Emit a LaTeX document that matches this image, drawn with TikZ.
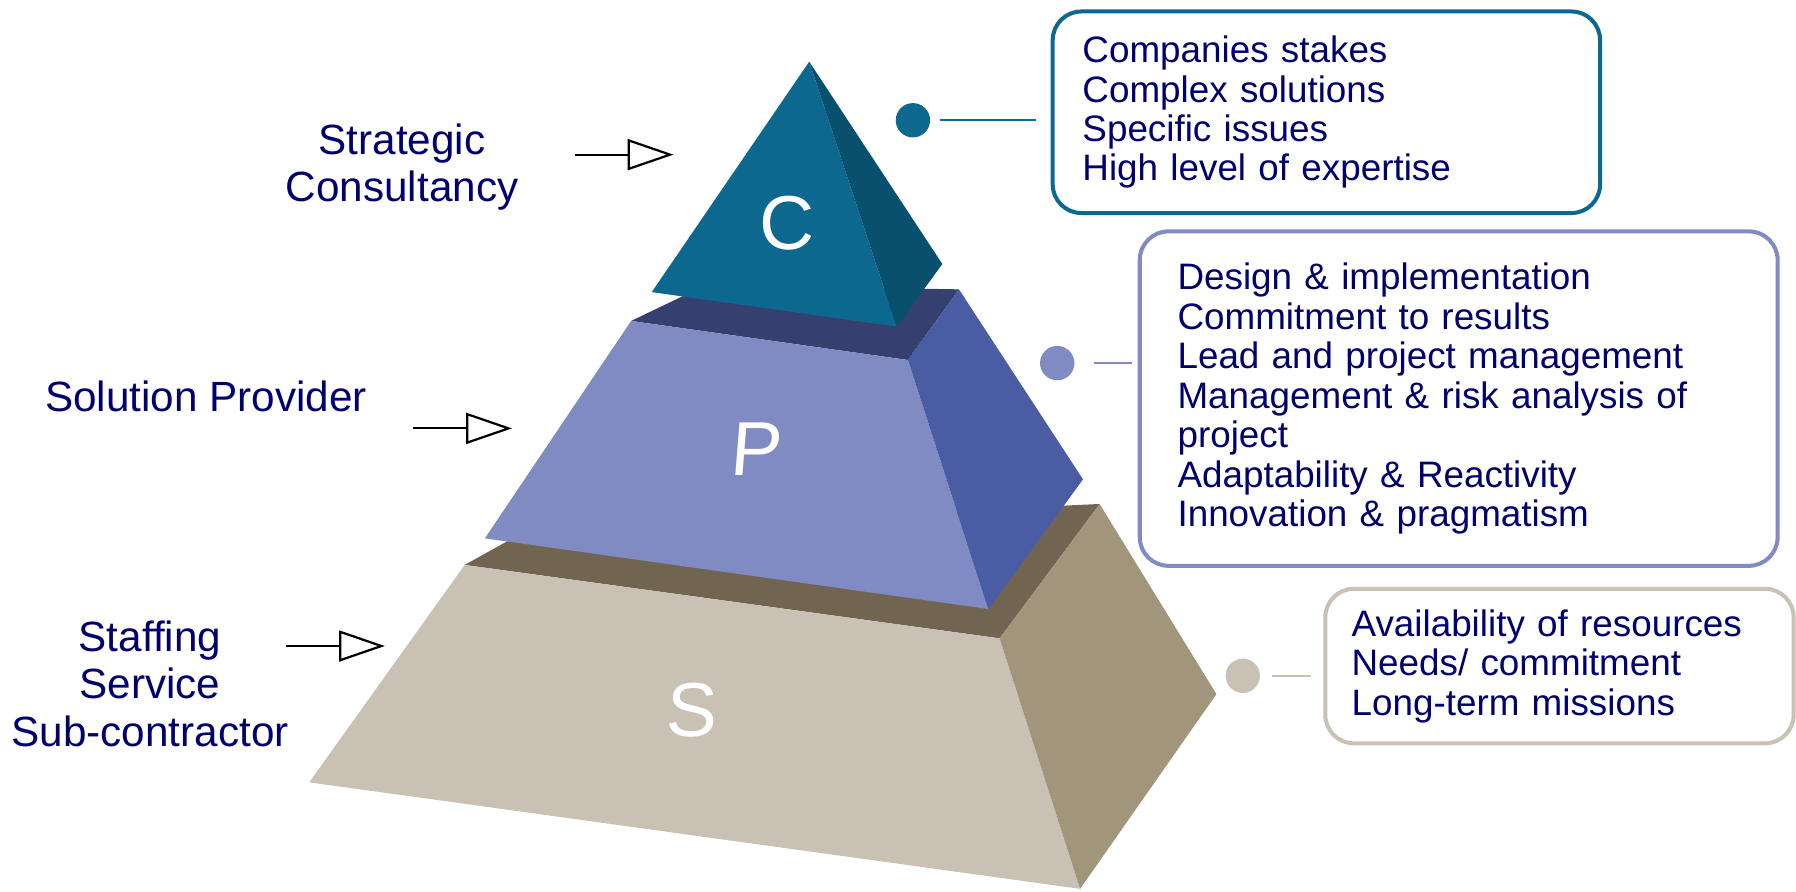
\documentclass[tikz,border=0pt]{standalone}
\usepackage{fontspec}
\setmainfont{Liberation Sans}
\usepackage{tikz}
\usetikzlibrary{arrows.meta,positioning}
\usepackage{xcolor}
\definecolor{pyrnavy}{RGB}{0,0,110}
\definecolor{cfront}{RGB}{13,104,144}
\definecolor{cside}{RGB}{8,80,110}
\definecolor{ptop}{RGB}{53,63,112}
\definecolor{pfront}{RGB}{127,139,194}
\definecolor{pside}{RGB}{74,93,164}
\definecolor{stop}{RGB}{113,101,82}
\definecolor{sfront}{RGB}{200,193,180}
\definecolor{sside}{RGB}{161,149,124}
\tikzstyle{infobox} = [rectangle, rounded corners=0.5cm, line width=2pt, fill=white, align=left, text=pyrnavy, font=\fontsize{18.3}{19.6}\selectfont]
\tikzstyle{leveldot} = [circle, inner sep=0pt, minimum size=0.6cm]
\tikzstyle{levellabel} = [align=center, text=pyrnavy, font=\fontsize{21}{23.5}\selectfont]
\tikzstyle{letter} = [text=white, font=\fontsize{38}{40}\selectfont]
\tikzstyle{pointer} = [line width=1.1pt, -{Triangle[open, length=0.8cm, width=0.54cm]}]
\tikzstyle{link} = [line width=0.85pt]

\begin{document}
\begin{tikzpicture}[x=0.02cm, y=-0.02cm]
\useasboundingbox (0,0) rectangle (1568,778);

% S level
\coordinate (sTL) at (405.7,493.2);
\coordinate (sTR) at (872.7,557.3);
\coordinate (sBR) at (960,440);
\coordinate (sBL) at (460,463);
\coordinate (sFL) at (270,683);
\coordinate (sFR) at (943,776);
\coordinate (sR) at (1062,606);
\fill[stop] (sTL) -- (sTR) -- (sBR) -- (sBL) -- cycle;
\fill[sfront] (sTL) -- (sFL) -- (sFR) -- (sTR) -- cycle;
\fill[sside] (sTR) -- (sBR) -- (sR) -- (sFR) -- cycle;

% P level
\coordinate (pTL) at (551,280.2);
\coordinate (pTR) at (792.7,314.3);
\coordinate (pBR) at (837.2,252.6);
\coordinate (pBL) at (616,249);
\coordinate (pFL) at (423.3,470);
\coordinate (pFR) at (862.9,531.7);
\coordinate (pR) at (945.5,418.5);
\fill[ptop] (pTL) -- (pTR) -- (pBR) -- (pBL) -- cycle;
\fill[pfront] (pTL) -- (pFL) -- (pFR) -- (pTR) -- cycle;
\fill[pside] (pTR) -- (pBR) -- (pR) -- (pFR) -- cycle;

% C level
\coordinate (cApex) at (706.5,53.8);
\coordinate (cFL) at (569,255);
\coordinate (cFR) at (782.8,285.2);
\coordinate (cR) at (822.7,230.5);
\fill[cfront] (cApex) -- (cFL) -- (cFR) -- cycle;
\fill[cside] (cApex) -- (cFR) -- (cR) -- cycle;

\node (letterC) [letter] at (687,195) {C};
\node (letterP) [letter, xslant=0.08] at (661,392) {P};
\node (letterS) [letter, xslant=0.05] at (604,620) {S};

% Level names and pointers
\node (nameC) [levellabel] at (351,146) {Strategic\\Consultancy};
\node (nameP) [levellabel] at (180,346) {Solution Provider};
\node (nameS) [levellabel] at (131,597) {Staffing\\Service\\Sub-contractor};

\coordinate (cIn) at (502,135);
\coordinate (cTip) at (588,135);
\coordinate (pIn) at (361,374);
\coordinate (pTip) at (447,374);
\coordinate (sIn) at (250,564);
\coordinate (sTip) at (336,564);
\draw[pointer] (cIn) -- (cTip);
\draw[pointer] (pIn) -- (pTip);
\draw[pointer] (sIn) -- (sTip);

% Description boxes
\node (boxC) [infobox, draw=cfront, inner xsep=0.52cm, text width=8.52cm, minimum width=9.56cm, minimum height=3.52cm] at (1158,98) {Companies stakes\\Complex solutions\\Specific issues\\High level of expertise};

\node (boxP) [infobox, draw=pfront, inner xsep=0.66cm, text width=9.82cm, minimum width=11.14cm, minimum height=5.84cm] at (1273.5,348) {Design \& implementation\\Commitment to results\\Lead and project management\\Management \& risk analysis of\\project\\Adaptability \& Reactivity\\Innovation \& pragmatism};

\node (boxS) [infobox, draw=sfront, inner xsep=0.46cm, text width=7.26cm, minimum width=8.18cm, minimum height=2.7cm] at (1361.5,581.5) {Availability of resources\\Needs/ commitment\\Long-term missions};

\node (dotC) [leveldot, fill=cfront] at (797,105) {};
\node (dotP) [leveldot, fill=pfront] at (923,317) {};
\node (dotS) [leveldot, fill=sfront] at (1085,590) {};

\draw[link, draw=cfront, shorten <=0.16cm, shorten >=0.26cm] (dotC.east) -- (dotC.east -| boxC.west);
\draw[link, draw=pfront, shorten <=0.34cm, shorten >=0.1cm] (dotP.east) -- (dotP.east -| boxP.west);
\draw[link, draw=sfront, shorten <=0.2cm, shorten >=0.22cm] (dotS.east) -- (dotS.east -| boxS.west);
\end{tikzpicture}
\end{document}
